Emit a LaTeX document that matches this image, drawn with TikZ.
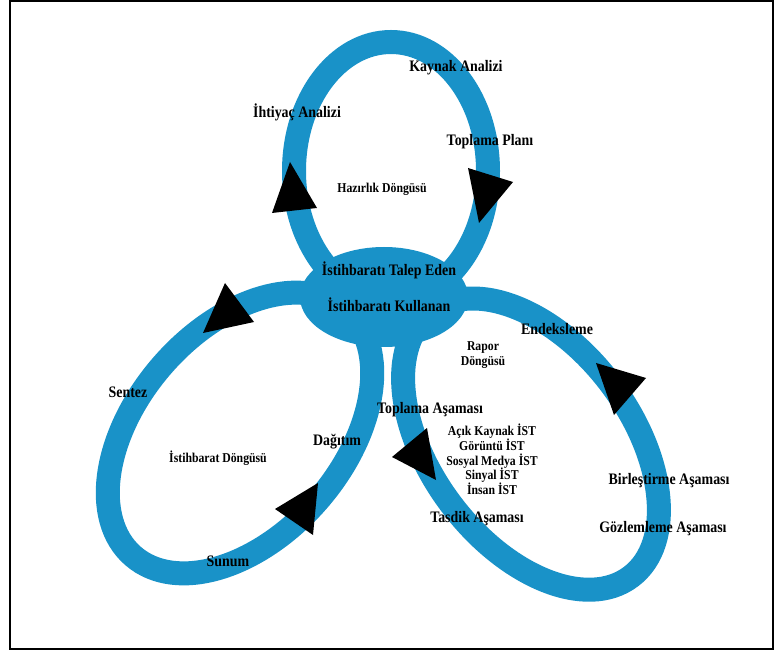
\documentclass[tikz,border=0pt]{standalone}
\usepackage{fontspec}
\setmainfont{Liberation Serif}[FakeStretch=0.87]
\usetikzlibrary{shapes.geometric,positioning}
\definecolor{loopblue}{RGB}{25,146,200}

\begin{document}
\begin{tikzpicture}[x=1pt,y=-1pt,
    loopline/.style={draw=loopblue,line width=24pt},
    hub/.style={ellipse,fill=loopblue,minimum width=168pt,minimum height=100pt,inner sep=0pt},
    stage/.style={font=\fontsize{16}{18}\selectfont\bfseries,inner sep=0pt},
    cyclename/.style={font=\fontsize{13.5}{14.7}\selectfont\bfseries,inner sep=0pt,align=center},
    head/.style={fill=black}]

    \useasboundingbox (0,0) rectangle (774,652);
    \draw[line width=1.5pt] (10,1) rectangle (773,649);

    % three cycles
    \coordinate (prep) at (391,171);
    \coordinate (intel) at (240,433);
    \coordinate (report) at (531,444);
    \draw[loopline] (prep) ellipse [x radius=97, y radius=129];
    \draw[loopline,rotate around={49:(intel)}] (intel) ellipse [x radius=163, y radius=103];
    \draw[loopline,rotate around={-53:(report)}] (report) ellipse [x radius=166, y radius=100];

    \node[hub] (user) at (384,297) {};

    % arrow heads
    \fill[head] (290,162) -- (272,213) -- (317,208) -- cycle;
    \fill[head] (468,168) -- (513,182) -- (479,223) -- cycle;
    \fill[head] (225,283) -- (254,322) -- (203,333) -- cycle;
    \fill[head] (318,483) -- (275,509) -- (313,535) -- cycle;
    \fill[head] (596,363) -- (646,378) -- (614,415) -- cycle;
    \fill[head] (427,428) -- (392,457) -- (436,480) -- cycle;

    \node[stage] (demand) at (389,270) {İstihbaratı Talep Eden};
    \node[stage] (consumer) at (389,305) {İstihbaratı Kullanan};

    \node[stage] (needs) at (297,112) {İhtiyaç Analizi};
    \node[stage] (source) at (456,68) {Kaynak Analizi};
    \node[stage] (plan) at (490,142) {Toplama Planı};
    \node[cyclename] (prepname) at (382,189) {Hazırlık Döngüsü};

    \node[stage] (synth) at (128,392) {Sentez};
    \node[stage] (distr) at (337,442) {Dağıtım};
    \node[stage] (present) at (228,561) {Sunum};
    \node[cyclename] (intelname) at (218,458) {İstihbarat Döngüsü};

    \node[stage] (index) at (557,329) {Endeksleme};
    \node[cyclename] (reportname) at (483,355) {Rapor\\Döngüsü};
    \node[stage] (collect) at (430,410) {Toplama Aşaması};
    \node[cyclename] (sources) at (492,459.5) {Açık Kaynak İST\\Görüntü İST\\Sosyal Medya İST\\Sinyal İST\\İnsan İST};
    \node[stage] (verify) at (477,519) {Tasdik Aşaması};
    \node[stage] (merge) at (669,481) {Birleştirme Aşaması};
    \node[stage] (observe) at (663,529) {Gözlemleme Aşaması};

\end{tikzpicture}
\end{document}
